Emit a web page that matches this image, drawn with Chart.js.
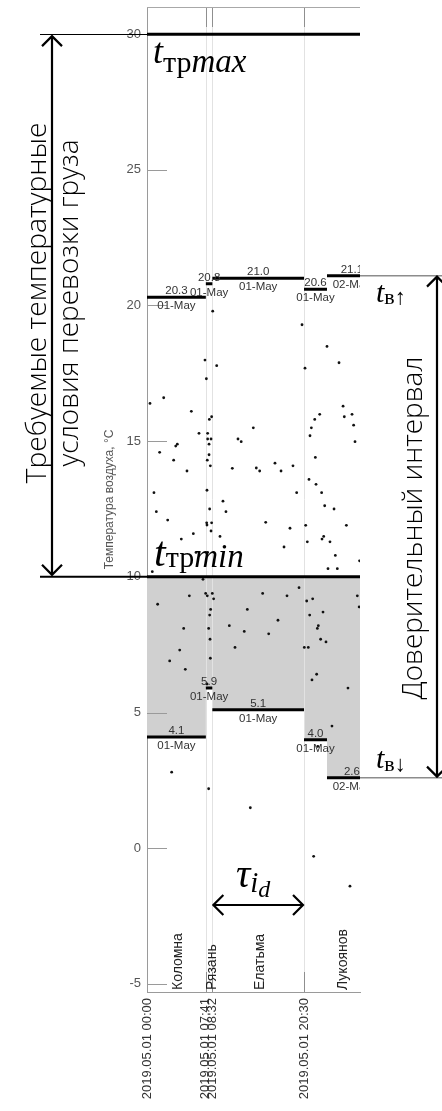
<!DOCTYPE html>
<html>
<head>
<meta charset="utf-8">
<script src="https://cdn.jsdelivr.net/npm/chart.js@4/dist/chart.umd.min.js"></script>
<style>
  html, body { margin: 0; padding: 0; background: #fff; }
  canvas { display: block; }
</style>
</head>
<body>
<canvas id="tempChart" width="442" height="1111" style="width:442px;height:1111px"></canvas>
<script>
// --- данные ---
const segStart = [0, 7.683, 8.533, 20.5, 23.5];
const segEnd = [7.683, 8.533, 20.5, 23.5, 30.0];
const upperVals = [20.3, 20.8, 21.0, 20.6, 21.1];
const lowerVals = [4.1, 5.9, 5.1, 4.0, 2.6];
const segDates = ["01-May", "01-May", "01-May", "01-May", "02-May"];
const tMax = 30;
const tMin = 10;
const stations = ["Коломна", "Рязань", "Елатьма", "Лукоянов"];
const stationHours = [4.05, 8.49, 14.75, 25.6];
const tickHours = [0, 7.683, 8.533, 20.5];
const tickLabels = ["2019.05.01 00:00", "2019.05.01 07:41", "2019.05.01 08:32", "2019.05.01 20:30"];
const yTicks = [-5, 0, 5, 10, 15, 20, 25, 30];

const obsHours = [
  8.58, 20.24, 23.50, 7.57, 9.10, 25.07, 20.63, 7.75, 0.39, 2.18,
  5.79, 8.44, 8.14, 25.60, 22.55, 21.90, 25.76, 26.77, 26.98, 21.46,
  13.88, 6.79, 7.92, 21.28, 7.92, 8.36, 11.88, 27.16, 3.75, 3.96,
  8.10, 12.30, 1.65, 8.10, 3.48, 7.87, 8.27, 5.22, 11.14, 14.27,
  14.71, 16.71, 17.50, 19.06, 21.98, 21.15, 22.07, 0.91, 7.83, 19.54,
  22.80, 9.92, 23.20, 24.42, 1.22, 8.18, 10.31, 2.70, 7.79, 7.83,
  8.44, 15.50, 18.67, 20.72, 26.03, 8.36, 6.05, 9.53, 4.48, 23.07,
  22.85, 20.93, 23.89, 17.89, 6.40, 7.92, 24.59, 0.69, 23.63, 24.85,
  27.75, 7.31, 19.85, 1.39, 5.53, 7.66, 7.87, 8.53, 8.70, 15.10,
  18.28, 20.85, 21.63, 27.46, 27.70, 8.31, 13.10, 22.98, 8.18, 21.24,
  17.10, 4.79, 8.05, 10.75, 22.37, 22.24, 12.70, 15.89, 8.23, 22.67,
  23.37, 4.27, 11.49, 20.54, 21.06, 2.96, 8.27, 5.00, 22.15, 21.54,
  26.24, 7.83, 24.15, 22.30, 3.22, 8.05, 13.49, 21.76, 26.50
];
const obsTemps = [
  19.79, 19.29, 18.49, 17.99, 17.78, 17.89, 17.69, 17.30, 16.39, 16.60,
  16.10, 15.90, 15.80, 16.29, 15.99, 15.80, 15.90, 15.99, 15.59, 15.49,
  15.49, 15.29, 15.29, 15.20, 15.08, 15.08, 15.08, 14.98, 14.82, 14.89,
  14.89, 14.98, 14.59, 14.50, 14.30, 14.30, 14.09, 13.90, 14.00, 14.01,
  13.90, 14.19, 13.90, 14.09, 14.40, 13.59, 13.41, 13.10, 13.19, 13.10,
  13.10, 12.79, 12.62, 12.50, 12.40, 12.50, 12.40, 12.09, 11.99, 11.91,
  11.99, 12.01, 11.79, 11.90, 11.90, 11.69, 11.59, 11.49, 11.39, 11.49,
  11.39, 11.29, 11.29, 11.10, 10.90, 10.90, 10.79, 10.19, 10.30, 10.30,
  10.59, 9.91, 9.60, 8.99, 9.30, 9.39, 9.30, 9.39, 9.19, 9.39,
  9.30, 9.11, 9.19, 9.30, 8.89, 8.80, 8.80, 8.70, 8.59, 8.59,
  8.40, 8.10, 8.10, 8.20, 8.20, 8.10, 7.99, 7.90, 7.70, 7.70,
  7.60, 7.30, 7.40, 7.40, 7.40, 6.90, 7.00, 6.59, 6.41, 6.20,
  5.90, 6.05, 4.50, 3.75, 2.80, 2.19, 1.49, -0.30, -1.40
];

const X_MAX = 27.81;

const stepBars = vals => {
  const d = [];
  segStart.forEach((s, i) => {
    d.push({ x: s, y: vals[i] }, { x: segEnd[i], y: vals[i] }, { x: segEnd[i], y: null });
  });
  return d;
};
const lowFill = [];
segStart.forEach((s, i) => {
  lowFill.push({ x: s, y: lowerVals[i] }, { x: segEnd[i], y: lowerVals[i] });
});
const lastX = segEnd[segEnd.length - 1];

const SANS = "'Liberation Sans', Arial, sans-serif";
const SERIF = "'Liberation Serif', 'DejaVu Serif', serif";
const LIGHT = "'Open Sans', 'Liberation Sans', sans-serif";

function mathLabel(ctx, x, y, parts) {
  let cx = x;
  parts.forEach(([t, f, dy]) => {
    ctx.font = f;
    ctx.fillText(t, cx, y + dy);
    cx += ctx.measureText(t).width;
  });
}

function arrowV(ctx, x, y1, y2, h) {
  ctx.beginPath();
  ctx.moveTo(x, y1); ctx.lineTo(x, y2);
  ctx.moveTo(x - h, y1 + h); ctx.lineTo(x, y1); ctx.lineTo(x + h, y1 + h);
  ctx.moveTo(x - h, y2 - h); ctx.lineTo(x, y2); ctx.lineTo(x + h, y2 - h);
  ctx.stroke();
}

function arrowH(ctx, x1, x2, y, h) {
  ctx.beginPath();
  ctx.moveTo(x1, y); ctx.lineTo(x2, y);
  ctx.moveTo(x1 + h, y - h); ctx.lineTo(x1, y); ctx.lineTo(x1 + h, y + h);
  ctx.moveTo(x2 - h, y - h); ctx.lineTo(x2, y); ctx.lineTo(x2 - h, y + h);
  ctx.stroke();
}

// rotated text fitted to a width
function vText(ctx, text, baseX, centerY, width) {
  ctx.save();
  ctx.font = "300 100px " + LIGHT;
  const size = 100 * width / ctx.measureText(text).width;
  ctx.font = "300 " + size.toFixed(2) + "px " + LIGHT;
  ctx.translate(baseX, centerY);
  ctx.rotate(-Math.PI / 2);
  ctx.textAlign = "center";
  ctx.textBaseline = "alphabetic";
  ctx.fillText(text, 0, 0);
  ctx.restore();
}

const overlay = {
  id: "overlay",
  afterDatasetDraw(chart, args) {
    if (args.index !== 1) return; // after the grey fill
    const { ctx, chartArea: a, scales: { x, y } } = chart;
    ctx.save();
    ctx.lineWidth = 1;
    // station boundary lines
    ctx.strokeStyle = "#e2e2e2";
    tickHours.forEach(h => {
      if (h === 0) return;
      const px = Math.round(x.getPixelForValue(h)) + 0.5;
      ctx.beginPath(); ctx.moveTo(px, a.top); ctx.lineTo(px, a.bottom); ctx.stroke();
    });
    // inside ticks
    ctx.strokeStyle = "#8f8f8f";
    tickHours.forEach(h => {
      if (h === 0) return;
      const px = Math.round(x.getPixelForValue(h)) + 0.5;
      ctx.beginPath();
      ctx.moveTo(px, a.top); ctx.lineTo(px, a.top + 20);
      ctx.moveTo(px, a.bottom); ctx.lineTo(px, a.bottom - 20);
      ctx.stroke();
    });
    ctx.strokeStyle = "#9a9a9a";
    yTicks.forEach(v => {
      const py = Math.round(y.getPixelForValue(v)) + 0.5;
      ctx.beginPath(); ctx.moveTo(a.left, py); ctx.lineTo(a.left + 20, py); ctx.stroke();
    });
    // top frame
    ctx.strokeStyle = "#a8a8a8";
    ctx.beginPath(); ctx.moveTo(a.left, a.top + 0.5); ctx.lineTo(a.right, a.top + 0.5); ctx.stroke();
    ctx.restore();
  },
  afterDatasetsDraw(chart) {
    const { ctx, chartArea: a, scales: { x, y } } = chart;
    ctx.save();
    ctx.beginPath();
    ctx.rect(a.left, a.top, a.right - a.left, a.bottom - a.top);
    ctx.clip();
    ctx.font = "11.5px " + SANS;
    ctx.fillStyle = "#333";
    ctx.textAlign = "center";
    [upperVals, lowerVals].forEach(vals => {
      vals.forEach((v, i) => {
        const cx = x.getPixelForValue((segStart[i] + segEnd[i]) / 2);
        const py = y.getPixelForValue(v);
        ctx.textBaseline = "alphabetic";
        ctx.fillText(v.toFixed(1), cx, py - 3);
        ctx.textBaseline = "top";
        ctx.fillText(segDates[i], cx, py + 3);
      });
    });
    ctx.restore();

    // station names
    ctx.save();
    ctx.font = "14px " + SANS;
    ctx.fillStyle = "#222";
    ctx.textAlign = "left";
    ctx.textBaseline = "middle";
    stations.forEach((s, i) => {
      ctx.save();
      ctx.translate(x.getPixelForValue(stationHours[i]), a.bottom - 2);
      ctx.rotate(-Math.PI / 2);
      ctx.fillText(s, 0, 0);
      ctx.restore();
    });
    ctx.restore();
  },
  afterDraw(chart) {
    const { ctx, chartArea: a, scales: { x, y } } = chart;
    const yMax = y.getPixelForValue(tMax);
    const yMin = y.getPixelForValue(tMin);
    const yUp = y.getPixelForValue(upperVals[upperVals.length - 1]);
    const yLo = y.getPixelForValue(lowerVals[lowerVals.length - 1]);
    ctx.save();
    ctx.strokeStyle = "#000";
    ctx.fillStyle = "#000";
    // guide lines to the left
    ctx.lineWidth = 1;
    ctx.beginPath(); ctx.moveTo(40, Math.round(yMax) + 0.5); ctx.lineTo(a.left, Math.round(yMax) + 0.5); ctx.stroke();
    ctx.lineWidth = 2;
    ctx.beginPath(); ctx.moveTo(40, yMin); ctx.lineTo(a.left, yMin); ctx.stroke();
    // guide lines to the right
    ctx.strokeStyle = "#8c8c8c";
    ctx.lineWidth = 1.5;
    ctx.beginPath();
    ctx.moveTo(a.right, yUp); ctx.lineTo(442, yUp);
    ctx.moveTo(a.right, yLo); ctx.lineTo(442, yLo);
    ctx.stroke();
    // arrows
    ctx.strokeStyle = "#000";
    ctx.lineWidth = 2.2;
    arrowV(ctx, 52, yMax + 2, yMin - 2, 10);
    arrowV(ctx, 437, yUp + 1, yLo - 1, 10);
    arrowH(ctx, x.getPixelForValue(tickHours[2]) + 1, x.getPixelForValue(tickHours[3]) - 1, 905, 10);

    // big rotated captions
    vText(ctx, "Требуемые температурные", 46, 303, 361);
    vText(ctx, "условия перевозки груза", 78, 303, 327);
    vText(ctx, "Доверительный интервал", 422, 528, 343);

    // math labels
    ctx.textAlign = "left";
    ctx.textBaseline = "alphabetic";
    mathLabel(ctx, 153, 63, [
      ["t", "italic 36px " + SERIF, 0],
      ["тр", "30px " + SERIF, 9],
      ["max", "italic 33px " + SERIF, 9]
    ]);
    mathLabel(ctx, 154, 566, [
      ["t", "italic 42px " + SERIF, 0],
      ["тр", "30px " + SERIF, 1],
      ["min", "italic 33px " + SERIF, 1]
    ]);
    mathLabel(ctx, 376, 302, [
      ["t", "italic 30px " + SERIF, 0],
      ["в↑", "22px " + SERIF, 2]
    ]);
    mathLabel(ctx, 376, 768, [
      ["t", "italic 30px " + SERIF, 0],
      ["в↓", "22px " + SERIF, 3]
    ]);
    mathLabel(ctx, 236, 887, [
      ["τ", "italic 40px " + SERIF, 0],
      ["i", "italic 29px " + SERIF, 5],
      ["d", "italic 24px " + SERIF, 10]
    ]);
    ctx.restore();
  }
};

new Chart(document.getElementById("tempChart"), {
  type: "line",
  data: {
    datasets: [
      {
        label: "Наблюдения",
        data: obsHours.map((h, i) => ({ x: h, y: obsTemps[i] })),
        showLine: false,
        pointRadius: 1.4,
        pointBorderWidth: 0,
        pointBackgroundColor: "#111",
        order: 0
      },
      {
        label: "Нижняя граница (заливка)",
        data: lowFill,
        fill: { value: tMin },
        backgroundColor: "#d0d0d0",
        borderWidth: 0,
        borderColor: "rgba(0,0,0,0)",
        pointRadius: 0,
        tension: 0,
        order: 4
      },
      {
        label: "tтрmax",
        data: [{ x: 0, y: tMax }, { x: lastX, y: tMax }],
        borderColor: "#000",
        borderWidth: 3,
        pointRadius: 0,
        order: 2
      },
      {
        label: "tтрmin",
        data: [{ x: 0, y: tMin }, { x: lastX, y: tMin }],
        borderColor: "#000",
        borderWidth: 3,
        pointRadius: 0,
        order: 2
      },
      {
        label: "Верхняя граница",
        data: stepBars(upperVals),
        borderColor: "#000",
        borderWidth: 3,
        borderCapStyle: "butt",
        pointRadius: 0,
        spanGaps: false,
        order: 1
      },
      {
        label: "Нижняя граница",
        data: stepBars(lowerVals),
        borderColor: "#000",
        borderWidth: 3,
        borderCapStyle: "butt",
        pointRadius: 0,
        spanGaps: false,
        order: 1
      }
    ]
  },
  options: {
    responsive: false,
    animation: false,
    devicePixelRatio: 1,
    layout: { padding: { left: 98, right: 82, top: 7, bottom: 0 } },
    plugins: { legend: { display: false }, tooltip: { enabled: false } },
    scales: {
      x: {
        type: "linear",
        min: 0,
        max: X_MAX,
        afterBuildTicks: s => { s.ticks = tickHours.map(v => ({ value: v })); },
        afterFit: s => {
          s.height = 119;
          s.paddingLeft = 0; s.paddingRight = 0; s.paddingTop = 0; s.paddingBottom = 0;
        },
        ticks: {
          autoSkip: false,
          minRotation: 90,
          maxRotation: 90,
          padding: 6,
          color: "#333",
          font: { family: SANS, size: 13 },
          callback: (v, i) => tickLabels[i]
        },
        grid: { display: false, drawTicks: false },
        border: { display: true, color: "#9a9a9a", width: 1 }
      },
      y: {
        type: "linear",
        min: -5.3,
        max: 31.0,
        afterBuildTicks: s => { s.ticks = yTicks.map(v => ({ value: v })); },
        afterFit: s => {
          s.width = 49;
          s.paddingLeft = 0; s.paddingRight = 0; s.paddingTop = 0; s.paddingBottom = 0;
        },
        ticks: {
          padding: 6,
          color: "#555",
          font: { family: SANS, size: 13 }
        },
        grid: { display: false, drawTicks: false },
        border: { display: true, color: "#9a9a9a", width: 1 },
        title: {
          display: true,
          text: "Температура воздуха, °C",
          color: "#555",
          font: { family: SANS, size: 12 },
          padding: { top: 4, bottom: 4 }
        }
      }
    }
  },
  plugins: [overlay]
});
</script>
</body>
</html>
